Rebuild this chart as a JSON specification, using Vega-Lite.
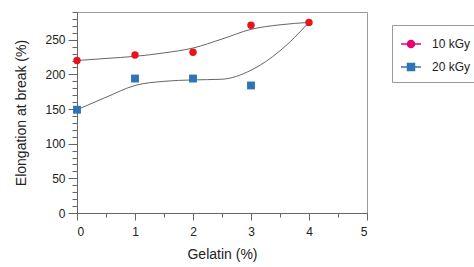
{
  "$schema": "https://vega.github.io/schema/vega-lite/v6.json",
  "autosize": {"type": "none"},
  "padding": {"left": 77, "top": 12, "right": 107, "bottom": 54},
  "width": 290,
  "height": 201,
  "background": "white",
  "config": {
    "font": "Liberation Sans",
    "view": {"stroke": "#999", "strokeWidth": 1},
    "axis": {"domainColor": "#666", "tickColor": "#666", "labelColor": "#222", "titleColor": "#222", "grid": false, "labelFont": "Liberation Sans", "titleFont": "Liberation Sans", "titleFontWeight": "normal", "labelFontSize": 12, "titleFontSize": 14},
    "legend": {"labelFont": "Liberation Sans", "labelFontSize": 12, "labelColor": "#222"}
  },
  "datasets": {
    "points": [
      {"gelatin": 0, "elongation": 149, "dose": "20 kGy"},
      {"gelatin": 1, "elongation": 194, "dose": "20 kGy"},
      {"gelatin": 2, "elongation": 194, "dose": "20 kGy"},
      {"gelatin": 3, "elongation": 184, "dose": "20 kGy"},
      {"gelatin": 0, "elongation": 220, "dose": "10 kGy"},
      {"gelatin": 1, "elongation": 228, "dose": "10 kGy"},
      {"gelatin": 2, "elongation": 232, "dose": "10 kGy"},
      {"gelatin": 3, "elongation": 271, "dose": "10 kGy"},
      {"gelatin": 4, "elongation": 275, "dose": "10 kGy"}
    ],
    "curve": [
      {"gelatin": 0, "elongation": 220, "dose": "10 kGy"},
      {"gelatin": 0.5, "elongation": 223, "dose": "10 kGy"},
      {"gelatin": 1, "elongation": 226, "dose": "10 kGy"},
      {"gelatin": 1.5, "elongation": 231, "dose": "10 kGy"},
      {"gelatin": 2, "elongation": 238, "dose": "10 kGy"},
      {"gelatin": 2.5, "elongation": 251, "dose": "10 kGy"},
      {"gelatin": 3, "elongation": 265, "dose": "10 kGy"},
      {"gelatin": 3.5, "elongation": 271.5, "dose": "10 kGy"},
      {"gelatin": 4, "elongation": 275, "dose": "10 kGy"},
      {"gelatin": 0, "elongation": 149, "dose": "20 kGy"},
      {"gelatin": 0.5, "elongation": 167, "dose": "20 kGy"},
      {"gelatin": 1, "elongation": 184, "dose": "20 kGy"},
      {"gelatin": 1.5, "elongation": 190, "dose": "20 kGy"},
      {"gelatin": 2, "elongation": 192, "dose": "20 kGy"},
      {"gelatin": 2.5, "elongation": 193, "dose": "20 kGy"},
      {"gelatin": 3, "elongation": 206, "dose": "20 kGy"},
      {"gelatin": 3.5, "elongation": 234, "dose": "20 kGy"},
      {"gelatin": 4, "elongation": 275, "dose": "20 kGy"}
    ]
  },
  "layer": [
    {
      "data": {"name": "curve"},
      "mark": {"type": "line", "interpolate": "monotone", "color": "#666", "strokeWidth": 1},
      "encoding": {
        "x": {"field": "gelatin", "type": "quantitative", "scale": {"domain": [0, 5], "nice": false},
          "axis": {"values": [0, 0.5, 1, 1.5, 2, 2.5, 3, 3.5, 4, 4.5, 5], "labels": false, "tickSize": 4, "title": null, "orient": "bottom"}},
        "y": {"field": "elongation", "type": "quantitative", "scale": {"domain": [0, 290], "nice": false, "zero": true},
          "axis": {"values": [0,10,20,30,40,50,60,70,80,90,100,110,120,130,140,150,160,170,180,190,200,210,220,230,240,250,260,270,280,290], "labels": false, "tickSize": 5, "title": null, "orient": "left"}},
        "detail": {"field": "dose"}
      }
    },
    {
      "data": {"name": "points"},
      "transform": [{"filter": "datum.dose === '20 kGy'"}],
      "mark": {"type": "square", "filled": true, "opacity": 1, "color": "#2f74b5", "size": 62},
      "encoding": {
        "x": {"field": "gelatin", "type": "quantitative", "scale": {"domain": [0, 5], "nice": false},
          "axis": {"values": [0, 1, 2, 3, 4, 5], "tickSize": 7, "labelPadding": 6, "title": "Gelatin (%)", "titlePadding": 10, "orient": "bottom"}},
        "y": {"field": "elongation", "type": "quantitative", "scale": {"domain": [0, 290], "nice": false},
          "axis": {"values": [0, 50, 100, 150, 200, 250], "tickSize": 9, "labelPadding": 3, "title": "Elongation at break (%)", "titlePadding": 16, "orient": "left"}}
      }
    },
    {
      "data": {"name": "points"},
      "transform": [{"filter": "datum.dose === '10 kGy'"}],
      "mark": {"type": "circle", "opacity": 1, "color": "#e8141c", "size": 55},
      "encoding": {
        "x": {"field": "gelatin", "type": "quantitative", "axis": null},
        "y": {"field": "elongation", "type": "quantitative", "axis": null}
      }
    },
    {
      "data": {"name": "points"},
      "mark": {"type": "point", "filled": true, "opacity": 0, "size": 55},
      "encoding": {
        "x": {"field": "gelatin", "type": "quantitative", "axis": null},
        "y": {"field": "elongation", "type": "quantitative", "axis": null},
        "fill": {"field": "dose", "type": "nominal", "scale": {"domain": ["10 kGy", "20 kGy"], "range": ["#e5006e", "#2f74b5"]},
          "legend": {"title": null, "orient": "none", "legendX": 315, "legendY": 13, "strokeColor": "#999", "padding": 8, "rowPadding": 5, "symbolSize": 400, "labelOffset": 10, "symbolOpacity": 1, "symbolStrokeWidth": 1.5}},
        "stroke": {"field": "dose", "type": "nominal", "scale": {"domain": ["10 kGy", "20 kGy"], "range": ["#e5006e", "#2f74b5"]},
          "legend": {"title": null, "orient": "none", "legendX": 315, "legendY": 13, "strokeColor": "#999", "padding": 8, "rowPadding": 5, "symbolSize": 400, "labelOffset": 10, "symbolOpacity": 1, "symbolStrokeWidth": 1.5}},
        "shape": {"field": "dose", "type": "nominal", "scale": {"domain": ["10 kGy", "20 kGy"], "range": ["M-1,0L-0.35,0M0.35,0L1,0M-0.35,0A0.35,0.35,0,1,0,0.35,0A0.35,0.35,0,1,0,-0.35,0Z", "M-1,0L-0.35,0M0.35,0L1,0M-0.35,-0.35L0.35,-0.35L0.35,0.35L-0.35,0.35Z"]},
          "legend": {"title": null, "orient": "none", "legendX": 315, "legendY": 13, "strokeColor": "#999", "padding": 8, "rowPadding": 5, "symbolSize": 400, "labelOffset": 10, "symbolOpacity": 1, "symbolStrokeWidth": 1.5}}
      }
    }
  ],
  "resolve": {"axis": {"x": "independent", "y": "independent"}}
}
